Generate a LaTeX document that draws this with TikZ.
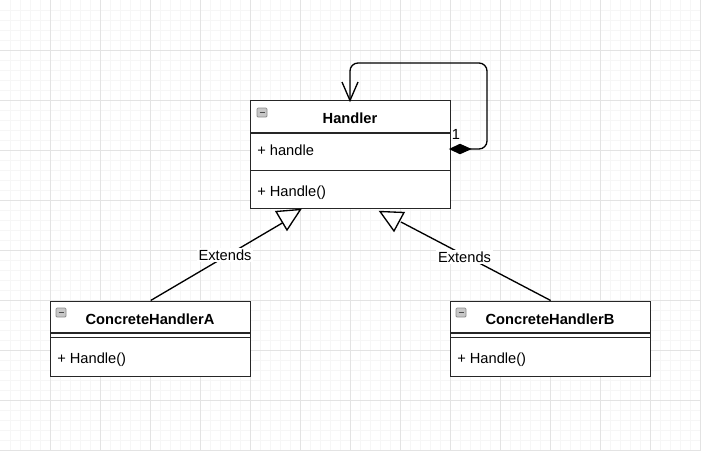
\documentclass[tikz,border=0pt]{standalone}
\usepackage{fontspec}
\setmainfont{Liberation Sans}
\begin{document}
\begin{tikzpicture}[x=0.75pt,y=-0.75pt,
  minorg/.style={draw=black!3.5,line width=0.75pt},
  majorg/.style={draw=black!11,line width=0.75pt},
  classbox/.style={draw=black!85,line width=1pt,fill=white,inner sep=0pt,anchor=north west,minimum width=150pt},
  divider/.style={draw=black!85,line width=1pt},
  edge/.style={draw=black,line width=1pt},
  ttl/.style={font=\fontsize{11}{13}\selectfont\bfseries,inner sep=0pt},
  mem/.style={font=\fontsize{11}{13}\selectfont,inner sep=0pt,anchor=west},
  lbl/.style={font=\fontsize{11}{13}\selectfont,fill=white,inner sep=1.5pt},
  icon/.style={draw=black!45,fill=black!22,rounded corners=0.8pt,line width=0.6pt}
]
\useasboundingbox (0,0) rectangle (701,451);
\fill[white] (0,0) rectangle (701,451);
% grid
\foreach \i in {10,20,...,700} \draw[minorg] (\i,0) -- (\i,451);
\foreach \j in {10,20,...,450} \draw[minorg] (0,\j) -- (701,\j);
\foreach \i in {50,100,...,700} \draw[majorg] (\i,0) -- (\i,451);
\foreach \j in {50,100,...,450} \draw[majorg] (0,\j) -- (701,\j);

% Handler
\node[classbox,minimum height=81pt] (H) at (250,100) {};
\draw[divider] (250,133) -- (450,133);
\draw[divider] (250,170.5) -- (450,170.5);
\draw[icon] (257,108) rectangle (267,117);
\draw[line width=0.8pt,black!70] (259.5,112.5) -- (264.5,112.5);
\node[ttl] (Ht) at (350,118.5) {Handler};
\node[mem] (Ha) at (257,150.5) {+ handle};
\node[mem] (Hm) at (257,192.5) {+ Handle()};

% ConcreteHandlerA
\node[classbox,minimum height=56.25pt] (A) at (50,300.5) {};
\draw[divider] (50,333) -- (250,333);
\draw[divider] (50,337.5) -- (250,337.5);
\draw[icon] (56,308) rectangle (66,317);
\draw[line width=0.8pt,black!70] (58.5,312.5) -- (63.5,312.5);
\node[ttl] (At) at (150,319.5) {ConcreteHandlerA};
\node[mem] (Am) at (57,360) {+ Handle()};

% ConcreteHandlerB
\node[classbox,minimum height=56.25pt] (B) at (450,300.5) {};
\draw[divider] (450,333) -- (650,333);
\draw[divider] (450,337.5) -- (650,337.5);
\draw[icon] (456,308) rectangle (466,317);
\draw[line width=0.8pt,black!70] (458.5,312.5) -- (463.5,312.5);
\node[ttl] (Bt) at (550,319.5) {ConcreteHandlerB};
\node[mem] (Bm) at (457,360) {+ Handle()};

% self association
\coordinate (dR) at (470,149);
\coordinate (hN) at (350,100.5);
\draw[edge,rounded corners=6pt] (dR) -- (487,149) -- (487,63) -- (350,63) -- (hN);
\filldraw[edge,fill=black] (450.5,149) -- (460,144.5) -- (dR) -- (460,153.5) -- cycle;
\draw[edge] (342,82) -- (hN) -- (358,82);
\node[font=\fontsize{11}{13}\selectfont,inner sep=0pt] (one) at (456,134) {1};

% generalisations
\coordinate (tA) at (284,222);
\coordinate (tB) at (401,222);
\draw[edge] (A.north) -- (tA);
\draw[edge] (B.north) -- (tB);
\node[lbl] (eA) at (225,255) {Extends};
\node[lbl] (eB) at (464.5,257) {Extends};
\filldraw[edge,fill=white] (276,211.5) -- (300.5,209.5) -- (287,230) -- cycle;
\filldraw[edge,fill=white] (380,211.5) -- (404,212.5) -- (394,231) -- cycle;
\end{tikzpicture}
\end{document}
